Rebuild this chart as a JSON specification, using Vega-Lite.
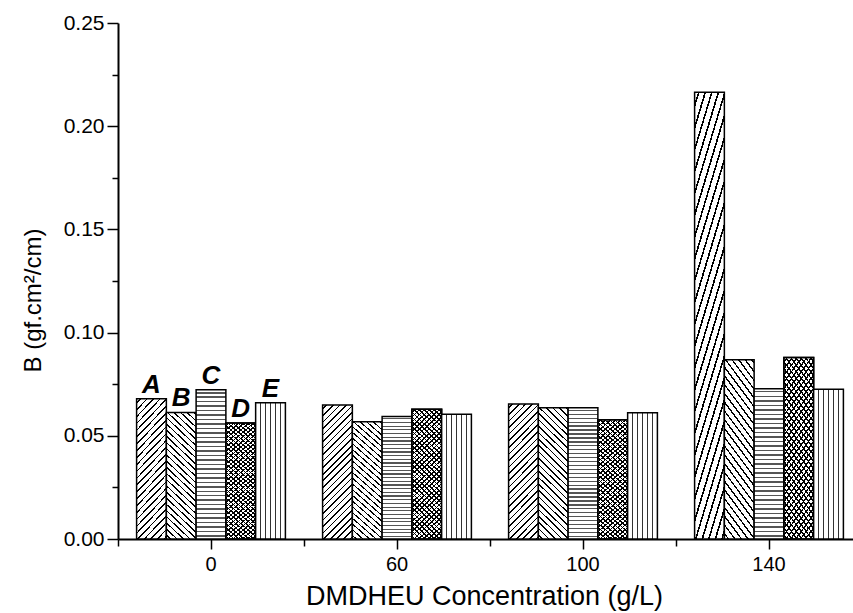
{
"$schema": "https://vega.github.io/schema/vega-lite/v6.json",
"width": 735, "height": 516,
"autosize": {"type": "none"},
"padding": {"left": 118, "top": 23, "right": 0, "bottom": 74},
"background": "white",
"config": {"view": {"stroke": null}, "font": "Liberation Sans"},
"data": {"values": [
{"conc":"0","series":"A","value":0.068},{"conc":"0","series":"B","value":0.0613},{"conc":"0","series":"C","value":0.0723},{"conc":"0","series":"D","value":0.0562},{"conc":"0","series":"E","value":0.066},
{"conc":"60","series":"A","value":0.0649},{"conc":"60","series":"B","value":0.0568},{"conc":"60","series":"C","value":0.0594},{"conc":"60","series":"D","value":0.0629},{"conc":"60","series":"E","value":0.0605},
{"conc":"100","series":"A","value":0.0654},{"conc":"100","series":"B","value":0.0636},{"conc":"100","series":"C","value":0.0636},{"conc":"100","series":"D","value":0.0578},{"conc":"100","series":"E","value":0.0612},
{"conc":"140","series":"A","value":0.2164},{"conc":"140","series":"B","value":0.0869},{"conc":"140","series":"C","value":0.0728},{"conc":"140","series":"D","value":0.0879},{"conc":"140","series":"E","value":0.0725}
]},
"encoding": {
"x": {"field":"conc","type":"nominal","scale":{"domain":["0","60","100","140"],"range":[0,744],"paddingInner":0.2,"paddingOuter":0.1},"axis":null},
"xOffset": {"field":"series","type":"nominal","scale":{"domain":["A","B","C","D","E"],"paddingInner":0,"paddingOuter":0}},
"y": {"field":"value","type":"quantitative","scale":{"domain":[0,0.25],"nice":false},"axis":null}
},
"layer": [
{"transform":[{"filter":"datum.series === 'A'"}],
"mark":{"type":"bar","stroke":"#000","strokeWidth":1.5,"fill":{"gradient":"linear","x1":0,"y1":0,"x2":0.2588,"y2":1.1647,"stops":[
{"offset":0,"color":"#fff"},
{"offset":0.02,"color":"#fff"},{"offset":0.02,"color":"#000"},{"offset":0.03,"color":"#000"},{"offset":0.03,"color":"#fff"},
{"offset":0.06,"color":"#fff"},{"offset":0.06,"color":"#000"},{"offset":0.07,"color":"#000"},{"offset":0.07,"color":"#fff"},
{"offset":0.1,"color":"#fff"},{"offset":0.1,"color":"#000"},{"offset":0.11,"color":"#000"},{"offset":0.11,"color":"#fff"},
{"offset":0.14,"color":"#fff"},{"offset":0.14,"color":"#000"},{"offset":0.15,"color":"#000"},{"offset":0.15,"color":"#fff"},
{"offset":0.18,"color":"#fff"},{"offset":0.18,"color":"#000"},{"offset":0.19,"color":"#000"},{"offset":0.19,"color":"#fff"},
{"offset":0.22,"color":"#fff"},{"offset":0.22,"color":"#000"},{"offset":0.23,"color":"#000"},{"offset":0.23,"color":"#fff"},
{"offset":0.26,"color":"#fff"},{"offset":0.26,"color":"#000"},{"offset":0.27,"color":"#000"},{"offset":0.27,"color":"#fff"},
{"offset":0.3,"color":"#fff"},{"offset":0.3,"color":"#000"},{"offset":0.31,"color":"#000"},{"offset":0.31,"color":"#fff"},
{"offset":0.34,"color":"#fff"},{"offset":0.34,"color":"#000"},{"offset":0.35,"color":"#000"},{"offset":0.35,"color":"#fff"},
{"offset":0.38,"color":"#fff"},{"offset":0.38,"color":"#000"},{"offset":0.39,"color":"#000"},{"offset":0.39,"color":"#fff"},
{"offset":0.42,"color":"#fff"},{"offset":0.42,"color":"#000"},{"offset":0.43,"color":"#000"},{"offset":0.43,"color":"#fff"},
{"offset":0.46,"color":"#fff"},{"offset":0.46,"color":"#000"},{"offset":0.47,"color":"#000"},{"offset":0.47,"color":"#fff"},
{"offset":0.5,"color":"#fff"},{"offset":0.5,"color":"#000"},{"offset":0.51,"color":"#000"},{"offset":0.51,"color":"#fff"},
{"offset":0.54,"color":"#fff"},{"offset":0.54,"color":"#000"},{"offset":0.55,"color":"#000"},{"offset":0.55,"color":"#fff"},
{"offset":0.58,"color":"#fff"},{"offset":0.58,"color":"#000"},{"offset":0.59,"color":"#000"},{"offset":0.59,"color":"#fff"},
{"offset":0.62,"color":"#fff"},{"offset":0.62,"color":"#000"},{"offset":0.63,"color":"#000"},{"offset":0.63,"color":"#fff"},
{"offset":0.66,"color":"#fff"},{"offset":0.66,"color":"#000"},{"offset":0.67,"color":"#000"},{"offset":0.67,"color":"#fff"},
{"offset":0.7,"color":"#fff"},{"offset":0.7,"color":"#000"},{"offset":0.71,"color":"#000"},{"offset":0.71,"color":"#fff"},
{"offset":0.74,"color":"#fff"},{"offset":0.74,"color":"#000"},{"offset":0.75,"color":"#000"},{"offset":0.75,"color":"#fff"},
{"offset":0.78,"color":"#fff"},{"offset":0.78,"color":"#000"},{"offset":0.79,"color":"#000"},{"offset":0.79,"color":"#fff"},
{"offset":0.82,"color":"#fff"},{"offset":0.82,"color":"#000"},{"offset":0.83,"color":"#000"},{"offset":0.83,"color":"#fff"},
{"offset":0.86,"color":"#fff"},{"offset":0.86,"color":"#000"},{"offset":0.87,"color":"#000"},{"offset":0.87,"color":"#fff"},
{"offset":0.9,"color":"#fff"},{"offset":0.9,"color":"#000"},{"offset":0.91,"color":"#000"},{"offset":0.91,"color":"#fff"},
{"offset":0.94,"color":"#fff"},{"offset":0.94,"color":"#000"},{"offset":0.95,"color":"#000"},{"offset":0.95,"color":"#fff"},
{"offset":0.98,"color":"#fff"},{"offset":0.98,"color":"#000"},{"offset":0.99,"color":"#000"},{"offset":0.99,"color":"#fff"},
{"offset":1,"color":"#fff"}]}},
"encoding":{
"x":{"field":"conc","type":"nominal","scale":{"domain":["0","60","100","140"],"range":[0,744],"paddingInner":0.2,"paddingOuter":0.1},
"axis":{"orient":"bottom","title":"DMDHEU Concentration (g/L)","titleFont":"Liberation Sans","titleFontSize":27,"titleFontWeight":"normal","titleColor":"#000","titlePadding":9,"titleX":366,"titleAlign":"center","labelFont":"Liberation Sans","labelFontSize":20,"labelColor":"#000","labelPadding":5,"labelAngle":0,"tickSize":10,"tickWidth":1.5,"tickColor":"#000","domainColor":"#000","domainWidth":2,"grid":false}},
"y":{"field":"value","type":"quantitative","scale":{"domain":[0,0.25],"nice":false},
"axis":{"orient":"left","values":[0,0.05,0.1,0.15,0.2,0.25],"format":".2f","tickSize":11,"tickWidth":1.5,"tickColor":"#000","domainColor":"#000","domainWidth":2,"labelFont":"Liberation Sans","labelFontSize":21,"labelColor":"#000","labelPadding":3,"grid":false,"title":"B (gf.cm²/cm)","titleFont":"Liberation Sans","titleFontSize":24,"titleFontWeight":"normal","titleColor":"#000","titleX":-85,"titleY":277,"titleAlign":"center","titleBaseline":"middle","titleAngle":-90}}}},
{"transform":[{"filter":"datum.series === 'B'"}],
"mark":{"type":"bar","stroke":"#000","strokeWidth":1.5,"fill":{"gradient":"linear","x1":0,"y1":1,"x2":0.2588,"y2":-0.1647,"stops":[
{"offset":0,"color":"#fff"},
{"offset":0.02,"color":"#fff"},{"offset":0.02,"color":"#000"},{"offset":0.03,"color":"#000"},{"offset":0.03,"color":"#fff"},
{"offset":0.06,"color":"#fff"},{"offset":0.06,"color":"#000"},{"offset":0.07,"color":"#000"},{"offset":0.07,"color":"#fff"},
{"offset":0.1,"color":"#fff"},{"offset":0.1,"color":"#000"},{"offset":0.11,"color":"#000"},{"offset":0.11,"color":"#fff"},
{"offset":0.14,"color":"#fff"},{"offset":0.14,"color":"#000"},{"offset":0.15,"color":"#000"},{"offset":0.15,"color":"#fff"},
{"offset":0.18,"color":"#fff"},{"offset":0.18,"color":"#000"},{"offset":0.19,"color":"#000"},{"offset":0.19,"color":"#fff"},
{"offset":0.22,"color":"#fff"},{"offset":0.22,"color":"#000"},{"offset":0.23,"color":"#000"},{"offset":0.23,"color":"#fff"},
{"offset":0.26,"color":"#fff"},{"offset":0.26,"color":"#000"},{"offset":0.27,"color":"#000"},{"offset":0.27,"color":"#fff"},
{"offset":0.3,"color":"#fff"},{"offset":0.3,"color":"#000"},{"offset":0.31,"color":"#000"},{"offset":0.31,"color":"#fff"},
{"offset":0.34,"color":"#fff"},{"offset":0.34,"color":"#000"},{"offset":0.35,"color":"#000"},{"offset":0.35,"color":"#fff"},
{"offset":0.38,"color":"#fff"},{"offset":0.38,"color":"#000"},{"offset":0.39,"color":"#000"},{"offset":0.39,"color":"#fff"},
{"offset":0.42,"color":"#fff"},{"offset":0.42,"color":"#000"},{"offset":0.43,"color":"#000"},{"offset":0.43,"color":"#fff"},
{"offset":0.46,"color":"#fff"},{"offset":0.46,"color":"#000"},{"offset":0.47,"color":"#000"},{"offset":0.47,"color":"#fff"},
{"offset":0.5,"color":"#fff"},{"offset":0.5,"color":"#000"},{"offset":0.51,"color":"#000"},{"offset":0.51,"color":"#fff"},
{"offset":0.54,"color":"#fff"},{"offset":0.54,"color":"#000"},{"offset":0.55,"color":"#000"},{"offset":0.55,"color":"#fff"},
{"offset":0.58,"color":"#fff"},{"offset":0.58,"color":"#000"},{"offset":0.59,"color":"#000"},{"offset":0.59,"color":"#fff"},
{"offset":0.62,"color":"#fff"},{"offset":0.62,"color":"#000"},{"offset":0.63,"color":"#000"},{"offset":0.63,"color":"#fff"},
{"offset":0.66,"color":"#fff"},{"offset":0.66,"color":"#000"},{"offset":0.67,"color":"#000"},{"offset":0.67,"color":"#fff"},
{"offset":0.7,"color":"#fff"},{"offset":0.7,"color":"#000"},{"offset":0.71,"color":"#000"},{"offset":0.71,"color":"#fff"},
{"offset":0.74,"color":"#fff"},{"offset":0.74,"color":"#000"},{"offset":0.75,"color":"#000"},{"offset":0.75,"color":"#fff"},
{"offset":0.78,"color":"#fff"},{"offset":0.78,"color":"#000"},{"offset":0.79,"color":"#000"},{"offset":0.79,"color":"#fff"},
{"offset":0.82,"color":"#fff"},{"offset":0.82,"color":"#000"},{"offset":0.83,"color":"#000"},{"offset":0.83,"color":"#fff"},
{"offset":0.86,"color":"#fff"},{"offset":0.86,"color":"#000"},{"offset":0.87,"color":"#000"},{"offset":0.87,"color":"#fff"},
{"offset":0.9,"color":"#fff"},{"offset":0.9,"color":"#000"},{"offset":0.91,"color":"#000"},{"offset":0.91,"color":"#fff"},
{"offset":0.94,"color":"#fff"},{"offset":0.94,"color":"#000"},{"offset":0.95,"color":"#000"},{"offset":0.95,"color":"#fff"},
{"offset":0.98,"color":"#fff"},{"offset":0.98,"color":"#000"},{"offset":0.99,"color":"#000"},{"offset":0.99,"color":"#fff"},
{"offset":1,"color":"#fff"}]}},
"encoding":{
"x":{"field":"conc","type":"nominal","scale":{"domain":["0","60","100","140"],"range":[0,744],"paddingInner":0.2,"paddingOuter":0.1},
"axis":{"orient":"bottom","bandPosition":-0.125,"labels":false,"domain":false,"title":null,"tickSize":7,"tickWidth":1.5,"tickColor":"#000","grid":false}},
"y":{"field":"value","type":"quantitative","scale":{"domain":[0,0.25],"nice":false},
"axis":{"orient":"left","values":[0.025,0.075,0.125,0.175,0.225],"labels":false,"domain":false,"title":null,"tickSize":6,"tickWidth":1.5,"tickColor":"#000","grid":false}}}},
{"transform":[{"filter":"datum.series === 'C'"}],
"mark":{"type":"bar","stroke":"#000","strokeWidth":1.5,"fill":{"gradient":"linear","x1":0,"y1":0,"x2":0,"y2":1,"stops":[
{"offset":0,"color":"#fff"},
{"offset":0.015,"color":"#fff"},{"offset":0.015,"color":"#555"},{"offset":0.025,"color":"#555"},{"offset":0.025,"color":"#fff"},
{"offset":0.045,"color":"#fff"},{"offset":0.045,"color":"#555"},{"offset":0.055,"color":"#555"},{"offset":0.055,"color":"#fff"},
{"offset":0.075,"color":"#fff"},{"offset":0.075,"color":"#555"},{"offset":0.085,"color":"#555"},{"offset":0.085,"color":"#fff"},
{"offset":0.105,"color":"#fff"},{"offset":0.105,"color":"#555"},{"offset":0.115,"color":"#555"},{"offset":0.115,"color":"#fff"},
{"offset":0.135,"color":"#fff"},{"offset":0.135,"color":"#555"},{"offset":0.145,"color":"#555"},{"offset":0.145,"color":"#fff"},
{"offset":0.165,"color":"#fff"},{"offset":0.165,"color":"#555"},{"offset":0.175,"color":"#555"},{"offset":0.175,"color":"#fff"},
{"offset":0.195,"color":"#fff"},{"offset":0.195,"color":"#555"},{"offset":0.205,"color":"#555"},{"offset":0.205,"color":"#fff"},
{"offset":0.225,"color":"#fff"},{"offset":0.225,"color":"#555"},{"offset":0.235,"color":"#555"},{"offset":0.235,"color":"#fff"},
{"offset":0.255,"color":"#fff"},{"offset":0.255,"color":"#555"},{"offset":0.265,"color":"#555"},{"offset":0.265,"color":"#fff"},
{"offset":0.285,"color":"#fff"},{"offset":0.285,"color":"#555"},{"offset":0.295,"color":"#555"},{"offset":0.295,"color":"#fff"},
{"offset":0.315,"color":"#fff"},{"offset":0.315,"color":"#555"},{"offset":0.325,"color":"#555"},{"offset":0.325,"color":"#fff"},
{"offset":0.345,"color":"#fff"},{"offset":0.345,"color":"#555"},{"offset":0.355,"color":"#555"},{"offset":0.355,"color":"#fff"},
{"offset":0.375,"color":"#fff"},{"offset":0.375,"color":"#555"},{"offset":0.385,"color":"#555"},{"offset":0.385,"color":"#fff"},
{"offset":0.405,"color":"#fff"},{"offset":0.405,"color":"#555"},{"offset":0.415,"color":"#555"},{"offset":0.415,"color":"#fff"},
{"offset":0.435,"color":"#fff"},{"offset":0.435,"color":"#555"},{"offset":0.445,"color":"#555"},{"offset":0.445,"color":"#fff"},
{"offset":0.465,"color":"#fff"},{"offset":0.465,"color":"#555"},{"offset":0.475,"color":"#555"},{"offset":0.475,"color":"#fff"},
{"offset":0.495,"color":"#fff"},{"offset":0.495,"color":"#555"},{"offset":0.505,"color":"#555"},{"offset":0.505,"color":"#fff"},
{"offset":0.525,"color":"#fff"},{"offset":0.525,"color":"#555"},{"offset":0.535,"color":"#555"},{"offset":0.535,"color":"#fff"},
{"offset":0.555,"color":"#fff"},{"offset":0.555,"color":"#555"},{"offset":0.565,"color":"#555"},{"offset":0.565,"color":"#fff"},
{"offset":0.585,"color":"#fff"},{"offset":0.585,"color":"#555"},{"offset":0.595,"color":"#555"},{"offset":0.595,"color":"#fff"},
{"offset":0.615,"color":"#fff"},{"offset":0.615,"color":"#555"},{"offset":0.625,"color":"#555"},{"offset":0.625,"color":"#fff"},
{"offset":0.645,"color":"#fff"},{"offset":0.645,"color":"#555"},{"offset":0.655,"color":"#555"},{"offset":0.655,"color":"#fff"},
{"offset":0.675,"color":"#fff"},{"offset":0.675,"color":"#555"},{"offset":0.685,"color":"#555"},{"offset":0.685,"color":"#fff"},
{"offset":0.705,"color":"#fff"},{"offset":0.705,"color":"#555"},{"offset":0.715,"color":"#555"},{"offset":0.715,"color":"#fff"},
{"offset":0.735,"color":"#fff"},{"offset":0.735,"color":"#555"},{"offset":0.745,"color":"#555"},{"offset":0.745,"color":"#fff"},
{"offset":0.765,"color":"#fff"},{"offset":0.765,"color":"#555"},{"offset":0.775,"color":"#555"},{"offset":0.775,"color":"#fff"},
{"offset":0.795,"color":"#fff"},{"offset":0.795,"color":"#555"},{"offset":0.805,"color":"#555"},{"offset":0.805,"color":"#fff"},
{"offset":0.825,"color":"#fff"},{"offset":0.825,"color":"#555"},{"offset":0.835,"color":"#555"},{"offset":0.835,"color":"#fff"},
{"offset":0.855,"color":"#fff"},{"offset":0.855,"color":"#555"},{"offset":0.865,"color":"#555"},{"offset":0.865,"color":"#fff"},
{"offset":0.885,"color":"#fff"},{"offset":0.885,"color":"#555"},{"offset":0.895,"color":"#555"},{"offset":0.895,"color":"#fff"},
{"offset":0.915,"color":"#fff"},{"offset":0.915,"color":"#555"},{"offset":0.925,"color":"#555"},{"offset":0.925,"color":"#fff"},
{"offset":0.945,"color":"#fff"},{"offset":0.945,"color":"#555"},{"offset":0.955,"color":"#555"},{"offset":0.955,"color":"#fff"},
{"offset":0.975,"color":"#fff"},{"offset":0.975,"color":"#555"},{"offset":0.985,"color":"#555"},{"offset":0.985,"color":"#fff"},
{"offset":1,"color":"#fff"}]}}},
{"transform":[{"filter":"datum.series === 'D'"}],
"mark":{"type":"bar","stroke":"#000","strokeWidth":1.5,"fill":{"gradient":"linear","x1":0,"y1":0,"x2":0.2588,"y2":1.1647,"stops":[
{"offset":0,"color":"#fff"},
{"offset":0.015,"color":"#fff"},{"offset":0.015,"color":"#000"},{"offset":0.025,"color":"#000"},{"offset":0.025,"color":"#fff"},
{"offset":0.045,"color":"#fff"},{"offset":0.045,"color":"#000"},{"offset":0.055,"color":"#000"},{"offset":0.055,"color":"#fff"},
{"offset":0.075,"color":"#fff"},{"offset":0.075,"color":"#000"},{"offset":0.085,"color":"#000"},{"offset":0.085,"color":"#fff"},
{"offset":0.105,"color":"#fff"},{"offset":0.105,"color":"#000"},{"offset":0.115,"color":"#000"},{"offset":0.115,"color":"#fff"},
{"offset":0.135,"color":"#fff"},{"offset":0.135,"color":"#000"},{"offset":0.145,"color":"#000"},{"offset":0.145,"color":"#fff"},
{"offset":0.165,"color":"#fff"},{"offset":0.165,"color":"#000"},{"offset":0.175,"color":"#000"},{"offset":0.175,"color":"#fff"},
{"offset":0.195,"color":"#fff"},{"offset":0.195,"color":"#000"},{"offset":0.205,"color":"#000"},{"offset":0.205,"color":"#fff"},
{"offset":0.225,"color":"#fff"},{"offset":0.225,"color":"#000"},{"offset":0.235,"color":"#000"},{"offset":0.235,"color":"#fff"},
{"offset":0.255,"color":"#fff"},{"offset":0.255,"color":"#000"},{"offset":0.265,"color":"#000"},{"offset":0.265,"color":"#fff"},
{"offset":0.285,"color":"#fff"},{"offset":0.285,"color":"#000"},{"offset":0.295,"color":"#000"},{"offset":0.295,"color":"#fff"},
{"offset":0.315,"color":"#fff"},{"offset":0.315,"color":"#000"},{"offset":0.325,"color":"#000"},{"offset":0.325,"color":"#fff"},
{"offset":0.345,"color":"#fff"},{"offset":0.345,"color":"#000"},{"offset":0.355,"color":"#000"},{"offset":0.355,"color":"#fff"},
{"offset":0.375,"color":"#fff"},{"offset":0.375,"color":"#000"},{"offset":0.385,"color":"#000"},{"offset":0.385,"color":"#fff"},
{"offset":0.405,"color":"#fff"},{"offset":0.405,"color":"#000"},{"offset":0.415,"color":"#000"},{"offset":0.415,"color":"#fff"},
{"offset":0.435,"color":"#fff"},{"offset":0.435,"color":"#000"},{"offset":0.445,"color":"#000"},{"offset":0.445,"color":"#fff"},
{"offset":0.465,"color":"#fff"},{"offset":0.465,"color":"#000"},{"offset":0.475,"color":"#000"},{"offset":0.475,"color":"#fff"},
{"offset":0.495,"color":"#fff"},{"offset":0.495,"color":"#000"},{"offset":0.505,"color":"#000"},{"offset":0.505,"color":"#fff"},
{"offset":0.525,"color":"#fff"},{"offset":0.525,"color":"#000"},{"offset":0.535,"color":"#000"},{"offset":0.535,"color":"#fff"},
{"offset":0.555,"color":"#fff"},{"offset":0.555,"color":"#000"},{"offset":0.565,"color":"#000"},{"offset":0.565,"color":"#fff"},
{"offset":0.585,"color":"#fff"},{"offset":0.585,"color":"#000"},{"offset":0.595,"color":"#000"},{"offset":0.595,"color":"#fff"},
{"offset":0.615,"color":"#fff"},{"offset":0.615,"color":"#000"},{"offset":0.625,"color":"#000"},{"offset":0.625,"color":"#fff"},
{"offset":0.645,"color":"#fff"},{"offset":0.645,"color":"#000"},{"offset":0.655,"color":"#000"},{"offset":0.655,"color":"#fff"},
{"offset":0.675,"color":"#fff"},{"offset":0.675,"color":"#000"},{"offset":0.685,"color":"#000"},{"offset":0.685,"color":"#fff"},
{"offset":0.705,"color":"#fff"},{"offset":0.705,"color":"#000"},{"offset":0.715,"color":"#000"},{"offset":0.715,"color":"#fff"},
{"offset":0.735,"color":"#fff"},{"offset":0.735,"color":"#000"},{"offset":0.745,"color":"#000"},{"offset":0.745,"color":"#fff"},
{"offset":0.765,"color":"#fff"},{"offset":0.765,"color":"#000"},{"offset":0.775,"color":"#000"},{"offset":0.775,"color":"#fff"},
{"offset":0.795,"color":"#fff"},{"offset":0.795,"color":"#000"},{"offset":0.805,"color":"#000"},{"offset":0.805,"color":"#fff"},
{"offset":0.825,"color":"#fff"},{"offset":0.825,"color":"#000"},{"offset":0.835,"color":"#000"},{"offset":0.835,"color":"#fff"},
{"offset":0.855,"color":"#fff"},{"offset":0.855,"color":"#000"},{"offset":0.865,"color":"#000"},{"offset":0.865,"color":"#fff"},
{"offset":0.885,"color":"#fff"},{"offset":0.885,"color":"#000"},{"offset":0.895,"color":"#000"},{"offset":0.895,"color":"#fff"},
{"offset":0.915,"color":"#fff"},{"offset":0.915,"color":"#000"},{"offset":0.925,"color":"#000"},{"offset":0.925,"color":"#fff"},
{"offset":0.945,"color":"#fff"},{"offset":0.945,"color":"#000"},{"offset":0.955,"color":"#000"},{"offset":0.955,"color":"#fff"},
{"offset":0.975,"color":"#fff"},{"offset":0.975,"color":"#000"},{"offset":0.985,"color":"#000"},{"offset":0.985,"color":"#fff"},
{"offset":1,"color":"#fff"}]}}},
{"transform":[{"filter":"datum.series === 'D'"}],
"mark":{"type":"bar","stroke":"#000","strokeWidth":1.5,"fill":{"gradient":"linear","x1":0,"y1":1,"x2":0.2588,"y2":-0.1647,"stops":[
{"offset":0,"color":"rgba(0,0,0,0)"},
{"offset":0.015,"color":"rgba(0,0,0,0)"},{"offset":0.015,"color":"#000"},{"offset":0.025,"color":"#000"},{"offset":0.025,"color":"rgba(0,0,0,0)"},
{"offset":0.045,"color":"rgba(0,0,0,0)"},{"offset":0.045,"color":"#000"},{"offset":0.055,"color":"#000"},{"offset":0.055,"color":"rgba(0,0,0,0)"},
{"offset":0.075,"color":"rgba(0,0,0,0)"},{"offset":0.075,"color":"#000"},{"offset":0.085,"color":"#000"},{"offset":0.085,"color":"rgba(0,0,0,0)"},
{"offset":0.105,"color":"rgba(0,0,0,0)"},{"offset":0.105,"color":"#000"},{"offset":0.115,"color":"#000"},{"offset":0.115,"color":"rgba(0,0,0,0)"},
{"offset":0.135,"color":"rgba(0,0,0,0)"},{"offset":0.135,"color":"#000"},{"offset":0.145,"color":"#000"},{"offset":0.145,"color":"rgba(0,0,0,0)"},
{"offset":0.165,"color":"rgba(0,0,0,0)"},{"offset":0.165,"color":"#000"},{"offset":0.175,"color":"#000"},{"offset":0.175,"color":"rgba(0,0,0,0)"},
{"offset":0.195,"color":"rgba(0,0,0,0)"},{"offset":0.195,"color":"#000"},{"offset":0.205,"color":"#000"},{"offset":0.205,"color":"rgba(0,0,0,0)"},
{"offset":0.225,"color":"rgba(0,0,0,0)"},{"offset":0.225,"color":"#000"},{"offset":0.235,"color":"#000"},{"offset":0.235,"color":"rgba(0,0,0,0)"},
{"offset":0.255,"color":"rgba(0,0,0,0)"},{"offset":0.255,"color":"#000"},{"offset":0.265,"color":"#000"},{"offset":0.265,"color":"rgba(0,0,0,0)"},
{"offset":0.285,"color":"rgba(0,0,0,0)"},{"offset":0.285,"color":"#000"},{"offset":0.295,"color":"#000"},{"offset":0.295,"color":"rgba(0,0,0,0)"},
{"offset":0.315,"color":"rgba(0,0,0,0)"},{"offset":0.315,"color":"#000"},{"offset":0.325,"color":"#000"},{"offset":0.325,"color":"rgba(0,0,0,0)"},
{"offset":0.345,"color":"rgba(0,0,0,0)"},{"offset":0.345,"color":"#000"},{"offset":0.355,"color":"#000"},{"offset":0.355,"color":"rgba(0,0,0,0)"},
{"offset":0.375,"color":"rgba(0,0,0,0)"},{"offset":0.375,"color":"#000"},{"offset":0.385,"color":"#000"},{"offset":0.385,"color":"rgba(0,0,0,0)"},
{"offset":0.405,"color":"rgba(0,0,0,0)"},{"offset":0.405,"color":"#000"},{"offset":0.415,"color":"#000"},{"offset":0.415,"color":"rgba(0,0,0,0)"},
{"offset":0.435,"color":"rgba(0,0,0,0)"},{"offset":0.435,"color":"#000"},{"offset":0.445,"color":"#000"},{"offset":0.445,"color":"rgba(0,0,0,0)"},
{"offset":0.465,"color":"rgba(0,0,0,0)"},{"offset":0.465,"color":"#000"},{"offset":0.475,"color":"#000"},{"offset":0.475,"color":"rgba(0,0,0,0)"},
{"offset":0.495,"color":"rgba(0,0,0,0)"},{"offset":0.495,"color":"#000"},{"offset":0.505,"color":"#000"},{"offset":0.505,"color":"rgba(0,0,0,0)"},
{"offset":0.525,"color":"rgba(0,0,0,0)"},{"offset":0.525,"color":"#000"},{"offset":0.535,"color":"#000"},{"offset":0.535,"color":"rgba(0,0,0,0)"},
{"offset":0.555,"color":"rgba(0,0,0,0)"},{"offset":0.555,"color":"#000"},{"offset":0.565,"color":"#000"},{"offset":0.565,"color":"rgba(0,0,0,0)"},
{"offset":0.585,"color":"rgba(0,0,0,0)"},{"offset":0.585,"color":"#000"},{"offset":0.595,"color":"#000"},{"offset":0.595,"color":"rgba(0,0,0,0)"},
{"offset":0.615,"color":"rgba(0,0,0,0)"},{"offset":0.615,"color":"#000"},{"offset":0.625,"color":"#000"},{"offset":0.625,"color":"rgba(0,0,0,0)"},
{"offset":0.645,"color":"rgba(0,0,0,0)"},{"offset":0.645,"color":"#000"},{"offset":0.655,"color":"#000"},{"offset":0.655,"color":"rgba(0,0,0,0)"},
{"offset":0.675,"color":"rgba(0,0,0,0)"},{"offset":0.675,"color":"#000"},{"offset":0.685,"color":"#000"},{"offset":0.685,"color":"rgba(0,0,0,0)"},
{"offset":0.705,"color":"rgba(0,0,0,0)"},{"offset":0.705,"color":"#000"},{"offset":0.715,"color":"#000"},{"offset":0.715,"color":"rgba(0,0,0,0)"},
{"offset":0.735,"color":"rgba(0,0,0,0)"},{"offset":0.735,"color":"#000"},{"offset":0.745,"color":"#000"},{"offset":0.745,"color":"rgba(0,0,0,0)"},
{"offset":0.765,"color":"rgba(0,0,0,0)"},{"offset":0.765,"color":"#000"},{"offset":0.775,"color":"#000"},{"offset":0.775,"color":"rgba(0,0,0,0)"},
{"offset":0.795,"color":"rgba(0,0,0,0)"},{"offset":0.795,"color":"#000"},{"offset":0.805,"color":"#000"},{"offset":0.805,"color":"rgba(0,0,0,0)"},
{"offset":0.825,"color":"rgba(0,0,0,0)"},{"offset":0.825,"color":"#000"},{"offset":0.835,"color":"#000"},{"offset":0.835,"color":"rgba(0,0,0,0)"},
{"offset":0.855,"color":"rgba(0,0,0,0)"},{"offset":0.855,"color":"#000"},{"offset":0.865,"color":"#000"},{"offset":0.865,"color":"rgba(0,0,0,0)"},
{"offset":0.885,"color":"rgba(0,0,0,0)"},{"offset":0.885,"color":"#000"},{"offset":0.895,"color":"#000"},{"offset":0.895,"color":"rgba(0,0,0,0)"},
{"offset":0.915,"color":"rgba(0,0,0,0)"},{"offset":0.915,"color":"#000"},{"offset":0.925,"color":"#000"},{"offset":0.925,"color":"rgba(0,0,0,0)"},
{"offset":0.945,"color":"rgba(0,0,0,0)"},{"offset":0.945,"color":"#000"},{"offset":0.955,"color":"#000"},{"offset":0.955,"color":"rgba(0,0,0,0)"},
{"offset":0.975,"color":"rgba(0,0,0,0)"},{"offset":0.975,"color":"#000"},{"offset":0.985,"color":"#000"},{"offset":0.985,"color":"rgba(0,0,0,0)"},
{"offset":1,"color":"rgba(0,0,0,0)"}]}}},
{"transform":[{"filter":"datum.series === 'E'"}],
"mark":{"type":"bar","stroke":"#000","strokeWidth":1.5,"fill":{"gradient":"linear","x1":0,"y1":0,"x2":1,"y2":0,"stops":[
{"offset":0,"color":"#fff"},
{"offset":0.1467,"color":"#fff"},{"offset":0.1467,"color":"#333"},{"offset":0.1867,"color":"#333"},{"offset":0.1867,"color":"#fff"},
{"offset":0.3133,"color":"#fff"},{"offset":0.3133,"color":"#333"},{"offset":0.3533,"color":"#333"},{"offset":0.3533,"color":"#fff"},
{"offset":0.48,"color":"#fff"},{"offset":0.48,"color":"#333"},{"offset":0.52,"color":"#333"},{"offset":0.52,"color":"#fff"},
{"offset":0.6467,"color":"#fff"},{"offset":0.6467,"color":"#333"},{"offset":0.6867,"color":"#333"},{"offset":0.6867,"color":"#fff"},
{"offset":0.8133,"color":"#fff"},{"offset":0.8133,"color":"#333"},{"offset":0.8533,"color":"#333"},{"offset":0.8533,"color":"#fff"},
{"offset":1,"color":"#fff"}]}}},
{"transform":[{"filter":"datum.conc === '0'"}],
"mark":{"type":"text","font":"Liberation Sans","fontSize":26,"fontStyle":"italic","fontWeight":"bold","baseline":"alphabetic","align":"center","dy":-6,"color":"#000"},
"encoding":{"text":{"field":"series"}}}
],
"resolve": {"axis": {"x": "independent", "y": "independent"}}
}
